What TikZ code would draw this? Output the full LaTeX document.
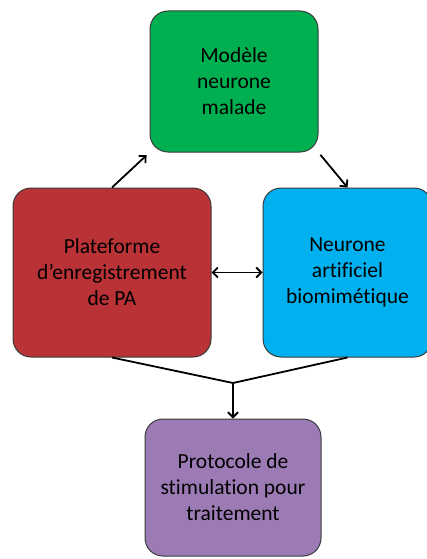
\documentclass[tikz,border=0pt]{standalone}
\usepackage{fontspec}
\setmainfont{Carlito}[Ligatures=NoCommon]
\usepackage{xcolor}
\definecolor{BOXgreen}{HTML}{00AF50}
\definecolor{BOXred}{HTML}{B93236}
\definecolor{BOXblue}{HTML}{00B0EF}
\definecolor{BOXpurple}{HTML}{9C7BB5}
\definecolor{BOXedge}{HTML}{3A3A3A}
\usetikzlibrary{arrows.meta, positioning, calc}

\begin{document}
\begin{tikzpicture}[x=1pt, y=-1pt]
    \tikzset{
  block/.style={draw=BOXedge, line width=1pt, rounded corners=18pt,
    align=center, font=\fontsize{21.5}{26}\selectfont, inner sep=0pt},
  link/.style={-{Straight Barb[length=5pt, width=10pt]}, line width=1.8pt},
}
  \useasboundingbox (0,0) rectangle (427,559);

  % Blocks
  \node[block, fill=BOXgreen, minimum width=168pt, minimum height=141pt]
    (modele) at (234,81.5) {Modèle\\neurone\\malade};
  \node[block, fill=BOXred, minimum width=198pt, minimum height=169pt]
    (plateforme) at (112,272.5) {Plateforme\\d’enregistrement\\de PA};
  \node[block, fill=BOXblue, minimum width=169pt, minimum height=169pt]
    (neurone) at (347.5,272.5) {Neurone\\artificiel\\biomimétique};
  \node[block, fill=BOXpurple, minimum width=176pt, minimum height=137pt]
    (protocole) at (233,487.5) {Protocole de\\stimulation pour\\traitement};

  % Cycle arrows
  \draw[link, shorten >=4pt] (plateforme.north) -- (modele.south west);
  \draw[link, shorten <=3pt] (modele.south east) -- (neurone.north);
  \draw[link, {Straight Barb[length=5pt, width=10pt]}-{Straight Barb[length=5pt, width=10pt]}]
    (plateforme.east) -- (neurone.west);

  % Merge towards protocol
  \coordinate (merge) at (233,383);
  \draw[line width=1.8pt] (plateforme.south) -- (merge) -- (neurone.south);
  \draw[link] (merge) -- (protocole.north);

\end{tikzpicture}
\end{document}
